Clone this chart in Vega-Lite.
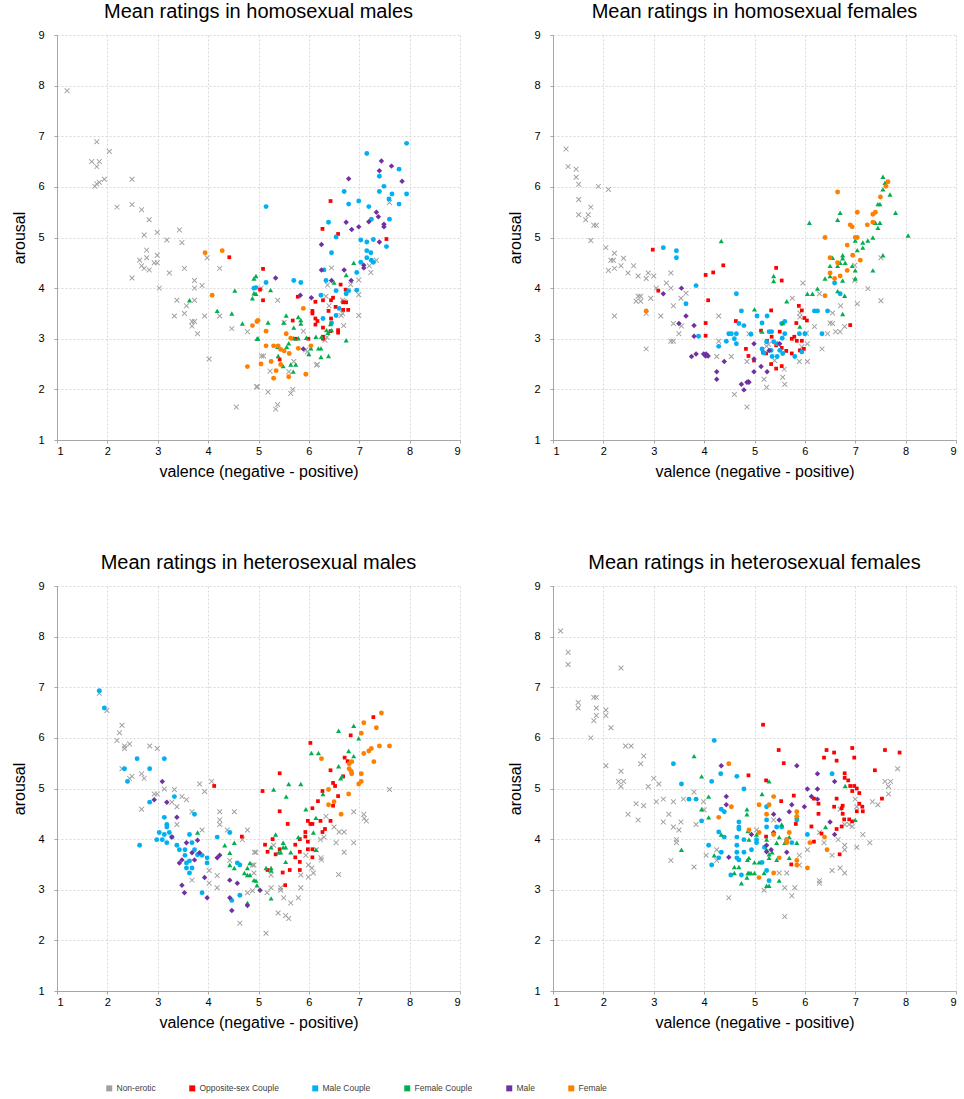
{
"$schema":"https://vega.github.io/schema/vega-lite/v6.json",
"padding":{"left":11,"top":2,"right":0,"bottom":0},
"autosize":{"type":"pad"},
"background":"white",
"config":{
"view":{"stroke":null},
"title":{"font":"Liberation Sans","fontSize":20,"fontWeight":"normal","color":"#000000","anchor":"middle","frame":"group","offset":7},
"axis":{"labelFont":"Liberation Sans","labelFontSize":11,"labelColor":"#000000","titleFont":"Liberation Sans","titleFontSize":16,"titleFontWeight":"normal","titleColor":"#000000","domainColor":"#a6a6a6","tickColor":"#a6a6a6","tickSize":3,"gridColor":"#d9d9d9","gridDash":[2,2],"gridWidth":1},
"axisX":{"labelPadding":2,"titlePadding":7},
"axisY":{"labelPadding":10,"titlePadding":10},
"legend":{"symbolType":"square","symbolSize":36,"symbolOpacity":1,"labelFont":"Liberation Sans","labelFontSize":8.5,"labelColor":"#404040","columnPadding":32,"labelOffset":3,"symbolStrokeWidth":0}
},
"datasets":{
"hm":[
{"c":"N","v":1.2,"a":7.9},{"c":"N","v":1.79,"a":6.89},{"c":"N","v":2.04,"a":6.7},{"c":"N","v":1.69,"a":6.5},{"c":"N","v":1.84,"a":6.5},{"c":"N","v":1.79,"a":6.4},{"c":"N","v":1.75,"a":6.01},{"c":"N","v":1.79,"a":6.06},{"c":"N","v":1.84,"a":6.09},{"c":"N","v":1.94,"a":6.15},{"c":"N","v":2.49,"a":6.15},{"c":"N","v":2.19,"a":5.6},{"c":"N","v":2.49,"a":5.65},{"c":"N","v":2.68,"a":5.55},{"c":"N","v":2.83,"a":5.35},{"c":"N","v":2.73,"a":5.05},{"c":"N","v":2.99,"a":5.1},{"c":"N","v":3.18,"a":4.95},{"c":"N","v":3.43,"a":5.15},{"c":"N","v":3.48,"a":4.9},{"c":"N","v":2.78,"a":4.75},{"c":"N","v":2.78,"a":4.6},{"c":"N","v":2.64,"a":4.55},{"c":"N","v":2.68,"a":4.44},{"c":"N","v":2.73,"a":4.39},{"c":"N","v":2.83,"a":4.36},{"c":"N","v":2.93,"a":4.5},{"c":"N","v":2.99,"a":4.5},{"c":"N","v":2.99,"a":4.65},{"c":"N","v":2.49,"a":4.2},{"c":"N","v":3.03,"a":4.0},{"c":"N","v":3.23,"a":4.3},{"c":"N","v":3.53,"a":4.39},{"c":"N","v":3.98,"a":4.6},{"c":"N","v":4.23,"a":4.39},{"c":"N","v":3.73,"a":4.15},{"c":"N","v":3.73,"a":4.0},{"c":"N","v":3.88,"a":4.05},{"c":"N","v":3.38,"a":3.76},{"c":"N","v":3.73,"a":3.76},{"c":"N","v":3.57,"a":3.65},{"c":"N","v":3.33,"a":3.45},{"c":"N","v":3.53,"a":3.5},{"c":"N","v":3.68,"a":3.34},{"c":"N","v":3.73,"a":3.34},{"c":"N","v":3.68,"a":3.25},{"c":"N","v":3.79,"a":3.1},{"c":"N","v":3.93,"a":3.45},{"c":"N","v":4.23,"a":3.45},{"c":"N","v":4.47,"a":3.2},{"c":"N","v":4.78,"a":3.14},{"c":"N","v":4.02,"a":2.6},{"c":"N","v":4.56,"a":1.65},{"c":"N","v":4.96,"a":2.05},
{"c":"N","v":7.6,"a":5.69},{"c":"N","v":7.34,"a":4.55},{"c":"N","v":7.2,"a":4.44},{"c":"N","v":7.23,"a":4.31},{"c":"N","v":6.99,"a":4.16},{"c":"N","v":6.99,"a":3.87},{"c":"N","v":6.99,"a":3.46},{"c":"N","v":6.45,"a":4.4},{"c":"N","v":6.37,"a":4.06},{"c":"N","v":6.34,"a":3.84},{"c":"N","v":6.67,"a":3.76},{"c":"N","v":6.7,"a":3.74},{"c":"N","v":6.4,"a":3.65},{"c":"N","v":6.64,"a":3.46},{"c":"N","v":6.67,"a":3.5},{"c":"N","v":6.69,"a":3.26},{"c":"N","v":6.83,"a":4.07},{"c":"N","v":5.05,"a":4.0},{"c":"N","v":5.38,"a":3.76},{"c":"N","v":5.51,"a":3.32},{"c":"N","v":5.89,"a":3.15},{"c":"N","v":5.94,"a":2.78},{"c":"N","v":5.97,"a":2.74},{"c":"N","v":5.06,"a":2.66},{"c":"N","v":5.1,"a":2.66},{"c":"N","v":5.7,"a":2.55},{"c":"N","v":6.15,"a":2.48},{"c":"N","v":6.17,"a":2.49},{"c":"N","v":5.23,"a":2.36},{"c":"N","v":5.6,"a":2.35},{"c":"N","v":4.98,"a":2.05},{"c":"N","v":5.19,"a":1.95},{"c":"N","v":5.64,"a":1.92},{"c":"N","v":5.68,"a":2.0},{"c":"N","v":5.38,"a":1.7},{"c":"N","v":5.34,"a":1.61},{"c":"N","v":6.32,"a":2.97},{"c":"N","v":6.36,"a":3.03},
{"c":"O","v":4.42,"a":4.61},{"c":"O","v":6.43,"a":5.72},{"c":"O","v":6.27,"a":5.17},{"c":"O","v":6.58,"a":5.07},{"c":"O","v":7.54,"a":4.97},{"c":"O","v":5.09,"a":4.38},{"c":"O","v":5.03,"a":3.97},{"c":"O","v":5.09,"a":3.76},{"c":"O","v":5.78,"a":3.83},{"c":"O","v":6.63,"a":4.07},{"c":"O","v":6.73,"a":3.97},{"c":"O","v":6.13,"a":3.73},{"c":"O","v":6.28,"a":3.76},{"c":"O","v":6.44,"a":3.76},{"c":"O","v":6.48,"a":3.81},{"c":"O","v":6.53,"a":3.63},{"c":"O","v":6.68,"a":3.72},{"c":"O","v":6.74,"a":3.72},{"c":"O","v":6.07,"a":3.55},{"c":"O","v":6.07,"a":3.5},{"c":"O","v":6.68,"a":3.57},{"c":"O","v":6.78,"a":3.57},{"c":"O","v":5.68,"a":3.36},{"c":"O","v":6.13,"a":3.4},{"c":"O","v":6.17,"a":3.35},{"c":"O","v":6.39,"a":3.55},{"c":"O","v":6.44,"a":3.4},{"c":"O","v":6.13,"a":3.28},{"c":"O","v":6.58,"a":3.17},{"c":"O","v":6.58,"a":3.12},{"c":"O","v":6.28,"a":3.22},{"c":"O","v":6.43,"a":3.15},{"c":"O","v":6.28,"a":3.04},{"c":"O","v":5.74,"a":3.0},{"c":"O","v":5.99,"a":3.0},{"c":"O","v":6.28,"a":3.0},{"c":"O","v":5.42,"a":2.59},
{"c":"MC","v":4.91,"a":4.0},{"c":"MC","v":7.94,"a":6.86},{"c":"MC","v":7.15,"a":6.66},{"c":"MC","v":7.79,"a":6.35},{"c":"MC","v":7.4,"a":6.21},{"c":"MC","v":7.49,"a":6.01},{"c":"MC","v":7.4,"a":5.91},{"c":"MC","v":6.7,"a":5.91},{"c":"MC","v":7.65,"a":5.86},{"c":"MC","v":7.59,"a":5.76},{"c":"MC","v":7.94,"a":5.86},{"c":"MC","v":7.79,"a":5.66},{"c":"MC","v":6.79,"a":5.66},{"c":"MC","v":6.99,"a":5.72},{"c":"MC","v":7.19,"a":5.61},{"c":"MC","v":5.15,"a":5.61},{"c":"MC","v":7.24,"a":5.36},{"c":"MC","v":7.6,"a":5.36},{"c":"MC","v":6.39,"a":5.3},{"c":"MC","v":6.54,"a":5.01},{"c":"MC","v":6.45,"a":4.7},{"c":"MC","v":7.03,"a":4.95},{"c":"MC","v":7.15,"a":4.91},{"c":"MC","v":7.28,"a":4.96},{"c":"MC","v":7.54,"a":4.82},{"c":"MC","v":7.15,"a":4.74},{"c":"MC","v":7.23,"a":4.7},{"c":"MC","v":7.15,"a":4.6},{"c":"MC","v":7.24,"a":4.55},{"c":"MC","v":7.28,"a":4.51},{"c":"MC","v":7.03,"a":4.51},{"c":"MC","v":6.95,"a":4.31},{"c":"MC","v":6.3,"a":4.36},{"c":"MC","v":6.34,"a":4.15},{"c":"MC","v":5.15,"a":4.11},{"c":"MC","v":5.7,"a":4.15},{"c":"MC","v":5.84,"a":4.11},{"c":"MC","v":4.95,"a":4.01},{"c":"MC","v":6.54,"a":3.95},{"c":"MC","v":6.79,"a":3.95},{"c":"MC","v":6.74,"a":3.89},{"c":"MC","v":6.95,"a":3.96},{"c":"MC","v":6.24,"a":3.86},{"c":"MC","v":6.6,"a":3.6},{"c":"MC","v":6.54,"a":3.46},{"c":"MC","v":6.28,"a":3.4},{"c":"MC","v":6.45,"a":3.31},
{"c":"FC","v":3.63,"a":3.76},{"c":"FC","v":4.18,"a":3.55},{"c":"FC","v":4.47,"a":3.5},{"c":"FC","v":4.53,"a":3.95},{"c":"FC","v":4.68,"a":3.3},{"c":"FC","v":4.91,"a":4.19},{"c":"FC","v":4.91,"a":3.9},{"c":"FC","v":4.88,"a":3.8},{"c":"FC","v":4.97,"a":3.0},{"c":"FC","v":6.89,"a":4.5},{"c":"FC","v":6.74,"a":4.26},{"c":"FC","v":6.5,"a":4.11},{"c":"FC","v":4.95,"a":4.24},{"c":"FC","v":4.95,"a":3.89},{"c":"FC","v":5.24,"a":3.96},{"c":"FC","v":5.55,"a":3.46},{"c":"FC","v":5.79,"a":3.43},{"c":"FC","v":5.84,"a":3.37},{"c":"FC","v":5.19,"a":3.32},{"c":"FC","v":4.99,"a":3.01},{"c":"FC","v":5.5,"a":3.32},{"c":"FC","v":5.7,"a":3.22},{"c":"FC","v":5.84,"a":3.3},{"c":"FC","v":5.6,"a":2.91},{"c":"FC","v":5.7,"a":3.01},{"c":"FC","v":5.79,"a":3.01},{"c":"FC","v":5.95,"a":3.02},{"c":"FC","v":6.14,"a":3.04},{"c":"FC","v":6.25,"a":3.04},{"c":"FC","v":6.35,"a":3.17},{"c":"FC","v":6.45,"a":3.17},{"c":"FC","v":6.43,"a":3.29},{"c":"FC","v":6.38,"a":3.12},{"c":"FC","v":6.74,"a":2.97},{"c":"FC","v":5.38,"a":2.84},{"c":"FC","v":5.56,"a":2.84},{"c":"FC","v":6.04,"a":2.81},{"c":"FC","v":6.19,"a":2.81},{"c":"FC","v":6.24,"a":2.81},{"c":"FC","v":5.39,"a":2.66},{"c":"FC","v":5.49,"a":2.46},{"c":"FC","v":5.64,"a":2.49},{"c":"FC","v":5.74,"a":2.49},{"c":"FC","v":5.69,"a":2.35},{"c":"FC","v":6.24,"a":2.64},{"c":"FC","v":6.39,"a":2.66},{"c":"FC","v":6.0,"a":2.7},
{"c":"M","v":7.44,"a":6.51},{"c":"M","v":7.64,"a":6.41},{"c":"M","v":7.4,"a":6.32},{"c":"M","v":7.85,"a":6.11},{"c":"M","v":6.79,"a":6.16},{"c":"M","v":7.34,"a":5.5},{"c":"M","v":7.38,"a":5.41},{"c":"M","v":6.74,"a":5.3},{"c":"M","v":6.85,"a":5.16},{"c":"M","v":6.99,"a":5.21},{"c":"M","v":7.19,"a":5.31},{"c":"M","v":7.49,"a":5.26},{"c":"M","v":7.49,"a":5.21},{"c":"M","v":7.4,"a":4.91},{"c":"M","v":6.25,"a":4.86},{"c":"M","v":7.09,"a":4.45},{"c":"M","v":7.09,"a":4.4},{"c":"M","v":6.25,"a":4.36},{"c":"M","v":6.7,"a":4.36},{"c":"M","v":6.45,"a":4.15},{"c":"M","v":6.84,"a":4.15},{"c":"M","v":5.34,"a":4.2},{"c":"M","v":5.83,"a":3.86},{"c":"M","v":6.05,"a":3.81},{"c":"M","v":5.89,"a":2.8},
{"c":"F","v":3.94,"a":4.7},{"c":"F","v":4.28,"a":4.74},{"c":"F","v":4.08,"a":3.86},{"c":"F","v":4.88,"a":3.26},{"c":"F","v":4.78,"a":2.45},{"c":"F","v":4.97,"a":3.34},{"c":"F","v":5.89,"a":3.6},{"c":"F","v":4.99,"a":3.36},{"c":"F","v":5.15,"a":3.15},{"c":"F","v":5.55,"a":3.1},{"c":"F","v":5.64,"a":3.01},{"c":"F","v":5.15,"a":2.86},{"c":"F","v":5.3,"a":2.86},{"c":"F","v":5.39,"a":2.86},{"c":"F","v":5.44,"a":2.79},{"c":"F","v":5.51,"a":2.76},{"c":"F","v":5.61,"a":2.71},{"c":"F","v":5.79,"a":2.81},{"c":"F","v":6.04,"a":2.86},{"c":"F","v":5.05,"a":2.5},{"c":"F","v":5.25,"a":2.55},{"c":"F","v":5.44,"a":2.49},{"c":"F","v":5.35,"a":2.37},{"c":"F","v":5.3,"a":2.22},{"c":"F","v":5.6,"a":2.25},{"c":"F","v":5.94,"a":2.3}
],
"hf":[
{"c":"N","v":1.26,"a":6.75},{"c":"N","v":1.3,"a":6.4},{"c":"N","v":1.46,"a":6.35},{"c":"N","v":1.46,"a":6.19},{"c":"N","v":1.51,"a":6.05},{"c":"N","v":1.9,"a":6.01},{"c":"N","v":2.1,"a":5.95},{"c":"N","v":1.51,"a":5.75},{"c":"N","v":1.75,"a":5.6},{"c":"N","v":1.51,"a":5.45},{"c":"N","v":1.7,"a":5.45},{"c":"N","v":1.65,"a":5.35},{"c":"N","v":1.81,"a":5.24},{"c":"N","v":1.86,"a":5.24},{"c":"N","v":1.75,"a":4.94},{"c":"N","v":2.05,"a":4.8},{"c":"N","v":2.22,"a":4.69},{"c":"N","v":2.15,"a":4.55},{"c":"N","v":2.2,"a":4.55},{"c":"N","v":2.4,"a":4.59},{"c":"N","v":2.35,"a":4.44},{"c":"N","v":2.1,"a":4.35},{"c":"N","v":2.22,"a":4.39},{"c":"N","v":2.49,"a":4.3},{"c":"N","v":2.6,"a":4.44},{"c":"N","v":2.69,"a":4.24},{"c":"N","v":2.85,"a":4.19},{"c":"N","v":2.89,"a":4.3},{"c":"N","v":3.0,"a":4.24},{"c":"N","v":3.34,"a":4.3},{"c":"N","v":3.25,"a":4.1},{"c":"N","v":3.05,"a":4.0},{"c":"N","v":3.34,"a":4.0},{"c":"N","v":2.69,"a":3.84},{"c":"N","v":2.74,"a":3.84},{"c":"N","v":2.65,"a":3.74},{"c":"N","v":2.74,"a":3.74},{"c":"N","v":2.94,"a":3.8},{"c":"N","v":2.22,"a":3.45},{"c":"N","v":2.85,"a":3.5},{"c":"N","v":3.14,"a":3.45},{"c":"N","v":3.39,"a":3.65},{"c":"N","v":3.54,"a":3.8},{"c":"N","v":3.64,"a":3.9},{"c":"N","v":3.55,"a":3.25},{"c":"N","v":3.39,"a":3.3},{"c":"N","v":3.5,"a":3.1},{"c":"N","v":3.34,"a":2.95},{"c":"N","v":3.39,"a":2.95},{"c":"N","v":2.85,"a":2.8},{"c":"N","v":4.29,"a":3.45},{"c":"N","v":4.29,"a":2.95},{"c":"N","v":4.25,"a":2.65},{"c":"N","v":4.54,"a":2.65},{"c":"N","v":4.85,"a":2.55},{"c":"N","v":4.6,"a":1.9},{"c":"N","v":4.85,"a":1.65},{"c":"N","v":4.89,"a":3.1},
{"c":"N","v":5.96,"a":4.1},{"c":"N","v":5.75,"a":3.8},{"c":"N","v":6.29,"a":3.89},{"c":"N","v":6.71,"a":3.65},{"c":"N","v":7.04,"a":3.69},{"c":"N","v":7.25,"a":3.99},{"c":"N","v":7.51,"a":3.75},{"c":"N","v":7.51,"a":4.6},{"c":"N","v":6.99,"a":4.45},{"c":"N","v":6.99,"a":4.15},{"c":"N","v":5.9,"a":3.51},{"c":"N","v":5.9,"a":3.43},{"c":"N","v":6.55,"a":3.51},{"c":"N","v":6.5,"a":3.31},{"c":"N","v":6.55,"a":3.3},{"c":"N","v":6.19,"a":3.24},{"c":"N","v":6.03,"a":3.11},{"c":"N","v":6.45,"a":3.1},{"c":"N","v":6.61,"a":3.14},{"c":"N","v":6.7,"a":3.14},{"c":"N","v":6.79,"a":3.24},{"c":"N","v":6.05,"a":2.9},{"c":"N","v":5.94,"a":2.84},{"c":"N","v":6.34,"a":2.8},{"c":"N","v":5.89,"a":2.55},{"c":"N","v":6.05,"a":2.55},{"c":"N","v":5.24,"a":2.85},{"c":"N","v":5.28,"a":2.89},{"c":"N","v":5.4,"a":2.57},{"c":"N","v":5.59,"a":2.4},{"c":"N","v":5.56,"a":2.24},{"c":"N","v":5.6,"a":2.1},{"c":"N","v":5.19,"a":2.2},{"c":"N","v":5.24,"a":2.04},
{"c":"O","v":2.98,"a":4.76},{"c":"O","v":3.09,"a":3.95},{"c":"O","v":4.03,"a":4.26},{"c":"O","v":4.18,"a":4.31},{"c":"O","v":4.38,"a":4.45},{"c":"O","v":4.08,"a":3.76},{"c":"O","v":4.03,"a":3.31},{"c":"O","v":4.03,"a":3.06},{"c":"O","v":4.63,"a":3.35},{"c":"O","v":4.83,"a":2.8},{"c":"O","v":4.88,"a":2.66},{"c":"O","v":5.43,"a":4.4},{"c":"O","v":5.54,"a":4.15},{"c":"O","v":5.33,"a":3.56},{"c":"O","v":5.88,"a":3.65},{"c":"O","v":5.94,"a":3.56},{"c":"O","v":5.83,"a":3.31},{"c":"O","v":5.99,"a":3.41},{"c":"O","v":6.04,"a":3.36},{"c":"O","v":6.9,"a":3.27},{"c":"O","v":5.13,"a":3.16},{"c":"O","v":5.5,"a":3.14},{"c":"O","v":5.34,"a":3.04},{"c":"O","v":5.25,"a":2.96},{"c":"O","v":5.79,"a":3.04},{"c":"O","v":5.84,"a":2.96},{"c":"O","v":5.74,"a":3.0},{"c":"O","v":5.94,"a":2.96},{"c":"O","v":5.43,"a":2.87},{"c":"O","v":5.54,"a":2.82},{"c":"O","v":5.98,"a":2.8},{"c":"O","v":5.9,"a":2.77},{"c":"O","v":5.74,"a":2.71},{"c":"O","v":5.17,"a":2.73},{"c":"O","v":5.23,"a":2.71},{"c":"O","v":5.63,"a":2.76},{"c":"O","v":5.54,"a":2.46},{"c":"O","v":5.43,"a":2.41},{"c":"O","v":5.33,"a":2.5},{"c":"O","v":4.99,"a":2.57},
{"c":"MC","v":3.19,"a":4.8},{"c":"MC","v":3.45,"a":4.74},{"c":"MC","v":3.45,"a":4.6},{"c":"MC","v":3.84,"a":4.05},{"c":"MC","v":3.64,"a":3.69},{"c":"MC","v":4.64,"a":3.89},{"c":"MC","v":4.74,"a":3.55},{"c":"MC","v":4.69,"a":3.3},{"c":"MC","v":4.79,"a":3.26},{"c":"MC","v":4.93,"a":3.09},{"c":"MC","v":4.49,"a":3.1},{"c":"MC","v":4.54,"a":3.1},{"c":"MC","v":4.64,"a":3.1},{"c":"MC","v":4.6,"a":3.0},{"c":"MC","v":4.44,"a":2.95},{"c":"MC","v":4.64,"a":2.9},{"c":"MC","v":4.29,"a":2.85},{"c":"MC","v":3.89,"a":3.05},{"c":"MC","v":5.05,"a":3.45},{"c":"MC","v":5.25,"a":3.45},{"c":"MC","v":5.15,"a":3.31},{"c":"MC","v":6.19,"a":3.55},{"c":"MC","v":6.25,"a":3.55},{"c":"MC","v":6.45,"a":3.55},{"c":"MC","v":6.59,"a":4.1},{"c":"MC","v":6.7,"a":3.89},{"c":"MC","v":5.6,"a":3.34},{"c":"MC","v":5.54,"a":3.3},{"c":"MC","v":5.29,"a":3.14},{"c":"MC","v":5.34,"a":3.14},{"c":"MC","v":5.6,"a":3.1},{"c":"MC","v":5.89,"a":3.1},{"c":"MC","v":6.0,"a":3.1},{"c":"MC","v":6.34,"a":3.1},{"c":"MC","v":5.55,"a":3.01},{"c":"MC","v":5.24,"a":2.94},{"c":"MC","v":5.38,"a":2.94},{"c":"MC","v":5.45,"a":2.9},{"c":"MC","v":5.15,"a":2.8},{"c":"MC","v":5.19,"a":2.72},{"c":"MC","v":5.33,"a":2.77},{"c":"MC","v":5.5,"a":2.77},{"c":"MC","v":5.56,"a":2.71},{"c":"MC","v":5.45,"a":2.65},{"c":"MC","v":5.35,"a":2.65},{"c":"MC","v":5.8,"a":2.65},{"c":"MC","v":5.94,"a":2.74},
{"c":"FC","v":4.34,"a":4.93},{"c":"FC","v":7.55,"a":6.2},{"c":"FC","v":7.59,"a":6.08},{"c":"FC","v":7.55,"a":5.95},{"c":"FC","v":7.69,"a":5.85},{"c":"FC","v":7.45,"a":5.66},{"c":"FC","v":7.49,"a":5.66},{"c":"FC","v":7.8,"a":5.49},{"c":"FC","v":6.7,"a":5.49},{"c":"FC","v":6.65,"a":5.35},{"c":"FC","v":6.09,"a":5.29},{"c":"FC","v":7.4,"a":5.29},{"c":"FC","v":7.49,"a":5.29},{"c":"FC","v":7.45,"a":5.19},{"c":"FC","v":8.05,"a":5.04},{"c":"FC","v":7.35,"a":5.0},{"c":"FC","v":7.25,"a":4.94},{"c":"FC","v":7.15,"a":4.9},{"c":"FC","v":7.15,"a":4.8},{"c":"FC","v":7.0,"a":4.94},{"c":"FC","v":7.04,"a":4.75},{"c":"FC","v":7.55,"a":4.65},{"c":"FC","v":6.75,"a":4.65},{"c":"FC","v":6.75,"a":4.59},{"c":"FC","v":6.55,"a":4.6},{"c":"FC","v":6.65,"a":4.44},{"c":"FC","v":6.7,"a":4.5},{"c":"FC","v":6.8,"a":4.5},{"c":"FC","v":6.5,"a":4.44},{"c":"FC","v":6.5,"a":4.24},{"c":"FC","v":6.94,"a":4.44},{"c":"FC","v":7.0,"a":4.35},{"c":"FC","v":7.0,"a":4.19},{"c":"FC","v":7.35,"a":4.35},{"c":"FC","v":6.4,"a":4.19},{"c":"FC","v":6.75,"a":4.15},{"c":"FC","v":5.38,"a":4.24},{"c":"FC","v":5.38,"a":4.14},{"c":"FC","v":6.25,"a":3.99},{"c":"FC","v":6.05,"a":3.89},{"c":"FC","v":6.15,"a":3.89},{"c":"FC","v":6.65,"a":3.94},{"c":"FC","v":6.79,"a":3.85},{"c":"FC","v":5.64,"a":3.74},{"c":"FC","v":6.75,"a":3.49},{"c":"FC","v":5.0,"a":3.58},{"c":"FC","v":5.56,"a":3.31},{"c":"FC","v":5.15,"a":3.14},{"c":"FC","v":5.9,"a":3.24},
{"c":"M","v":3.55,"a":4.0},{"c":"M","v":3.19,"a":3.89},{"c":"M","v":3.64,"a":3.45},{"c":"M","v":3.5,"a":3.3},{"c":"M","v":3.8,"a":3.26},{"c":"M","v":3.8,"a":3.05},{"c":"M","v":3.75,"a":2.65},{"c":"M","v":3.84,"a":2.7},{"c":"M","v":3.99,"a":2.7},{"c":"M","v":4.03,"a":2.66},{"c":"M","v":4.08,"a":2.66},{"c":"M","v":4.04,"a":2.7},{"c":"M","v":4.4,"a":2.55},{"c":"M","v":4.25,"a":2.35},{"c":"M","v":4.25,"a":2.2},{"c":"M","v":4.74,"a":2.1},{"c":"M","v":4.85,"a":2.14},{"c":"M","v":4.89,"a":2.14},{"c":"M","v":4.79,"a":1.99},{"c":"M","v":4.99,"a":2.9},{"c":"M","v":4.99,"a":2.6},{"c":"M","v":5.13,"a":2.45},{"c":"M","v":5.25,"a":2.35},{"c":"M","v":4.99,"a":2.35},{"c":"M","v":4.88,"a":2.15},{"c":"M","v":5.29,"a":2.77},{"c":"M","v":5.5,"a":2.9},
{"c":"F","v":2.85,"a":3.55},{"c":"F","v":7.65,"a":6.1},{"c":"F","v":7.61,"a":6.01},{"c":"F","v":6.65,"a":5.9},{"c":"F","v":7.5,"a":5.8},{"c":"F","v":7.04,"a":5.5},{"c":"F","v":7.35,"a":5.46},{"c":"F","v":7.4,"a":5.5},{"c":"F","v":7.35,"a":5.3},{"c":"F","v":6.9,"a":5.25},{"c":"F","v":6.94,"a":5.21},{"c":"F","v":7.24,"a":5.25},{"c":"F","v":6.4,"a":5.0},{"c":"F","v":7.0,"a":5.0},{"c":"F","v":7.04,"a":5.0},{"c":"F","v":6.84,"a":4.85},{"c":"F","v":6.5,"a":4.6},{"c":"F","v":6.95,"a":4.65},{"c":"F","v":7.1,"a":4.55},{"c":"F","v":6.65,"a":4.5},{"c":"F","v":6.84,"a":4.35},{"c":"F","v":6.5,"a":4.3},{"c":"F","v":6.7,"a":4.24},{"c":"F","v":6.59,"a":4.19},{"c":"F","v":6.4,"a":3.85}
],
"htm":[
{"c":"N","v":1.84,"a":6.88},{"c":"N","v":1.99,"a":6.54},{"c":"N","v":2.29,"a":6.25},{"c":"N","v":2.24,"a":6.1},{"c":"N","v":2.19,"a":5.95},{"c":"N","v":2.34,"a":5.84},{"c":"N","v":2.34,"a":5.79},{"c":"N","v":2.44,"a":5.88},{"c":"N","v":2.84,"a":5.84},{"c":"N","v":2.99,"a":5.79},{"c":"N","v":2.29,"a":5.39},{"c":"N","v":2.44,"a":5.2},{"c":"N","v":2.49,"a":5.24},{"c":"N","v":2.68,"a":5.29},{"c":"N","v":2.73,"a":5.2},{"c":"N","v":2.93,"a":4.89},{"c":"N","v":2.99,"a":4.89},{"c":"N","v":3.13,"a":4.99},{"c":"N","v":3.33,"a":4.98},{"c":"N","v":3.28,"a":4.73},{"c":"N","v":3.38,"a":4.64},{"c":"N","v":3.48,"a":4.84},{"c":"N","v":3.57,"a":4.78},{"c":"N","v":2.68,"a":4.59},{"c":"N","v":3.38,"a":4.29},{"c":"N","v":3.68,"a":4.54},{"c":"N","v":3.83,"a":5.09},{"c":"N","v":3.93,"a":4.94},{"c":"N","v":4.07,"a":5.14},{"c":"N","v":3.88,"a":4.18},{"c":"N","v":4.23,"a":4.54},{"c":"N","v":4.23,"a":4.38},{"c":"N","v":4.23,"a":4.29},{"c":"N","v":4.52,"a":4.54},{"c":"N","v":4.38,"a":4.18},{"c":"N","v":4.78,"a":4.18},{"c":"N","v":4.68,"a":3.99},{"c":"N","v":3.68,"a":3.19},{"c":"N","v":4.02,"a":3.38},{"c":"N","v":4.02,"a":3.13},{"c":"N","v":4.18,"a":3.28},{"c":"N","v":4.18,"a":3.04},{"c":"N","v":4.43,"a":3.58},{"c":"N","v":4.92,"a":3.74},{"c":"N","v":4.88,"a":3.49},{"c":"N","v":4.78,"a":2.94},{"c":"N","v":4.88,"a":2.98},{"c":"N","v":4.63,"a":2.34},
{"c":"N","v":7.6,"a":4.98},{"c":"N","v":6.89,"a":4.54},{"c":"N","v":7.09,"a":4.49},{"c":"N","v":7.14,"a":4.36},{"c":"N","v":7.1,"a":4.41},{"c":"N","v":6.34,"a":4.45},{"c":"N","v":6.5,"a":4.24},{"c":"N","v":6.6,"a":4.14},{"c":"N","v":6.7,"a":4.14},{"c":"N","v":6.54,"a":3.93},{"c":"N","v":6.89,"a":3.93},{"c":"N","v":6.7,"a":3.74},{"c":"N","v":6.3,"a":4.04},{"c":"N","v":6.23,"a":3.99},{"c":"N","v":6.15,"a":3.79},{"c":"N","v":6.24,"a":3.63},{"c":"N","v":6.25,"a":3.59},{"c":"N","v":5.94,"a":3.68},{"c":"N","v":5.99,"a":3.49},{"c":"N","v":6.06,"a":3.43},{"c":"N","v":6.09,"a":3.33},{"c":"N","v":5.99,"a":3.25},{"c":"N","v":6.59,"a":3.3},{"c":"N","v":5.84,"a":3.29},{"c":"N","v":5.84,"a":3.04},{"c":"N","v":5.79,"a":2.84},{"c":"N","v":5.25,"a":3.29},{"c":"N","v":5.25,"a":3.04},{"c":"N","v":5.44,"a":3.04},{"c":"N","v":5.44,"a":2.99},{"c":"N","v":5.17,"a":2.94},{"c":"N","v":5.5,"a":2.84},{"c":"N","v":5.64,"a":2.74},{"c":"N","v":5.39,"a":2.54},{"c":"N","v":5.54,"a":2.49},{"c":"N","v":5.6,"a":2.43},{"c":"N","v":5.15,"a":2.14},{"c":"N","v":4.95,"a":3.74},{"c":"N","v":4.91,"a":3.49},{"c":"N","v":4.91,"a":3.33},{"c":"N","v":5.3,"a":3.88},
{"c":"O","v":4.12,"a":5.05},{"c":"O","v":4.67,"a":4.05},{"c":"O","v":7.28,"a":6.41},{"c":"O","v":6.83,"a":6.05},{"c":"O","v":6.03,"a":5.9},{"c":"O","v":6.71,"a":5.61},{"c":"O","v":6.77,"a":5.54},{"c":"O","v":6.43,"a":5.36},{"c":"O","v":6.68,"a":5.24},{"c":"O","v":6.48,"a":5.11},{"c":"O","v":6.52,"a":5.05},{"c":"O","v":6.27,"a":4.95},{"c":"O","v":5.42,"a":5.3},{"c":"O","v":5.08,"a":4.95},{"c":"O","v":5.42,"a":4.55},{"c":"O","v":6.18,"a":4.75},{"c":"O","v":6.58,"a":4.85},{"c":"O","v":6.48,"a":4.66},{"c":"O","v":6.07,"a":4.61},{"c":"O","v":5.98,"a":4.36},{"c":"O","v":6.03,"a":4.3},{"c":"O","v":6.07,"a":4.3},{"c":"O","v":6.43,"a":4.36},{"c":"O","v":6.23,"a":4.36},{"c":"O","v":6.32,"a":4.2},{"c":"O","v":6.27,"a":4.14},{"c":"O","v":5.58,"a":4.3},{"c":"O","v":5.93,"a":4.14},{"c":"O","v":5.93,"a":4.05},{"c":"O","v":5.82,"a":4.0},{"c":"O","v":5.98,"a":3.95},{"c":"O","v":5.13,"a":3.89},{"c":"O","v":5.28,"a":4.0},{"c":"O","v":5.42,"a":3.8},{"c":"O","v":5.18,"a":3.75},{"c":"O","v":5.34,"a":3.7},{"c":"O","v":5.73,"a":3.89},{"c":"O","v":5.82,"a":3.75},{"c":"O","v":5.98,"a":3.8},{"c":"O","v":6.07,"a":3.8},{"c":"O","v":5.73,"a":3.64},{"c":"O","v":6.07,"a":3.64},{"c":"O","v":5.82,"a":3.55},{"c":"O","v":5.62,"a":3.39},{"c":"O","v":5.82,"a":3.39},{"c":"O","v":5.48,"a":3.34},{"c":"O","v":5.18,"a":3.39},{"c":"O","v":5.53,"a":3.09},
{"c":"MC","v":1.84,"a":6.93},{"c":"MC","v":1.94,"a":6.59},{"c":"MC","v":2.34,"a":5.39},{"c":"MC","v":2.4,"a":5.14},{"c":"MC","v":2.59,"a":5.59},{"c":"MC","v":2.84,"a":5.39},{"c":"MC","v":3.13,"a":5.59},{"c":"MC","v":3.33,"a":4.84},{"c":"MC","v":2.84,"a":4.73},{"c":"MC","v":2.64,"a":3.88},{"c":"MC","v":3.13,"a":4.43},{"c":"MC","v":3.18,"a":4.29},{"c":"MC","v":3.18,"a":4.24},{"c":"MC","v":3.03,"a":4.13},{"c":"MC","v":3.13,"a":4.09},{"c":"MC","v":3.23,"a":4.13},{"c":"MC","v":2.98,"a":3.99},{"c":"MC","v":3.09,"a":3.99},{"c":"MC","v":3.18,"a":3.93},{"c":"MC","v":3.28,"a":4.04},{"c":"MC","v":3.38,"a":3.88},{"c":"MC","v":3.43,"a":3.79},{"c":"MC","v":3.54,"a":3.79},{"c":"MC","v":3.63,"a":4.09},{"c":"MC","v":3.73,"a":4.49},{"c":"MC","v":3.54,"a":3.68},{"c":"MC","v":3.63,"a":3.57},{"c":"MC","v":3.68,"a":3.93},{"c":"MC","v":3.57,"a":3.53},{"c":"MC","v":3.57,"a":3.43},{"c":"MC","v":3.68,"a":3.43},{"c":"MC","v":3.63,"a":3.33},{"c":"MC","v":3.73,"a":3.79},{"c":"MC","v":3.79,"a":3.69},{"c":"MC","v":3.88,"a":3.68},{"c":"MC","v":3.98,"a":3.63},{"c":"MC","v":3.98,"a":3.53},{"c":"MC","v":3.88,"a":2.94},{"c":"MC","v":4.18,"a":4.04},{"c":"MC","v":4.43,"a":4.13},{"c":"MC","v":4.58,"a":3.53},{"c":"MC","v":4.63,"a":3.49},{"c":"MC","v":4.63,"a":2.89},{"c":"MC","v":4.47,"a":2.79},
{"c":"FC","v":3.79,"a":4.13},{"c":"FC","v":4.33,"a":3.88},{"c":"FC","v":4.52,"a":3.93},{"c":"FC","v":4.43,"a":3.73},{"c":"FC","v":4.43,"a":3.49},{"c":"FC","v":4.52,"a":3.43},{"c":"FC","v":4.78,"a":3.43},{"c":"FC","v":4.83,"a":3.53},{"c":"FC","v":4.72,"a":3.33},{"c":"FC","v":4.78,"a":3.29},{"c":"FC","v":4.83,"a":3.29},{"c":"FC","v":4.91,"a":3.19},{"c":"FC","v":4.97,"a":3.09},{"c":"FC","v":4.78,"a":2.74},{"c":"FC","v":6.59,"a":6.14},{"c":"FC","v":6.89,"a":6.24},{"c":"FC","v":6.99,"a":5.99},{"c":"FC","v":6.05,"a":5.7},{"c":"FC","v":6.19,"a":5.7},{"c":"FC","v":6.79,"a":5.74},{"c":"FC","v":6.89,"a":5.64},{"c":"FC","v":6.59,"a":5.44},{"c":"FC","v":6.63,"a":5.2},{"c":"FC","v":6.66,"a":5.24},{"c":"FC","v":5.3,"a":4.98},{"c":"FC","v":5.6,"a":5.09},{"c":"FC","v":5.84,"a":5.09},{"c":"FC","v":5.55,"a":4.84},{"c":"FC","v":6.28,"a":4.89},{"c":"FC","v":5.94,"a":4.59},{"c":"FC","v":6.14,"a":4.42},{"c":"FC","v":6.09,"a":4.13},{"c":"FC","v":5.79,"a":4.04},{"c":"FC","v":5.34,"a":4.09},{"c":"FC","v":5.49,"a":3.93},{"c":"FC","v":5.49,"a":3.84},{"c":"FC","v":5.54,"a":3.84},{"c":"FC","v":5.25,"a":3.84},{"c":"FC","v":5.4,"a":3.74},{"c":"FC","v":5.44,"a":3.74},{"c":"FC","v":5.64,"a":3.74},{"c":"FC","v":6.14,"a":3.79},{"c":"FC","v":5.54,"a":3.55},{"c":"FC","v":5.15,"a":3.43},{"c":"FC","v":5.25,"a":3.43},{"c":"FC","v":5.25,"a":3.38},{"c":"FC","v":4.95,"a":3.18},{"c":"FC","v":5.25,"a":2.83},
{"c":"M","v":3.09,"a":5.14},{"c":"M","v":2.93,"a":4.78},{"c":"M","v":3.18,"a":4.73},{"c":"M","v":3.38,"a":4.43},{"c":"M","v":3.28,"a":4.04},{"c":"M","v":3.57,"a":3.93},{"c":"M","v":3.79,"a":3.98},{"c":"M","v":3.68,"a":3.73},{"c":"M","v":3.83,"a":3.73},{"c":"M","v":3.73,"a":3.59},{"c":"M","v":3.43,"a":3.53},{"c":"M","v":3.48,"a":3.59},{"c":"M","v":4.18,"a":3.63},{"c":"M","v":4.23,"a":3.68},{"c":"M","v":3.93,"a":3.24},{"c":"M","v":3.48,"a":3.09},{"c":"M","v":3.53,"a":2.94},{"c":"M","v":3.98,"a":2.84},{"c":"M","v":4.43,"a":3.19},{"c":"M","v":4.58,"a":3.13},{"c":"M","v":4.43,"a":2.84},{"c":"M","v":4.47,"a":2.59},{"c":"M","v":4.78,"a":2.69},{"c":"M","v":5.03,"a":2.99},
{"c":"F","v":7.44,"a":6.49},{"c":"F","v":7.09,"a":6.3},{"c":"F","v":7.34,"a":6.2},{"c":"F","v":7.04,"a":6.09},{"c":"F","v":7.4,"a":5.84},{"c":"F","v":7.6,"a":5.84},{"c":"F","v":7.24,"a":5.79},{"c":"F","v":7.19,"a":5.74},{"c":"F","v":7.09,"a":5.69},{"c":"F","v":7.29,"a":5.53},{"c":"F","v":6.85,"a":5.53},{"c":"F","v":6.8,"a":5.49},{"c":"F","v":6.8,"a":5.39},{"c":"F","v":6.84,"a":5.34},{"c":"F","v":6.85,"a":5.29},{"c":"F","v":7.04,"a":5.29},{"c":"F","v":6.99,"a":5.09},{"c":"F","v":7.04,"a":5.14},{"c":"F","v":6.25,"a":5.59},{"c":"F","v":6.39,"a":4.98},{"c":"F","v":6.79,"a":4.89},{"c":"F","v":6.5,"a":4.74},{"c":"F","v":6.39,"a":4.68},{"c":"F","v":6.64,"a":4.49}
],
"htf":[
{"c":"N","v":1.15,"a":8.11},{"c":"N","v":1.3,"a":7.69},{"c":"N","v":1.3,"a":7.45},{"c":"N","v":2.35,"a":7.38},{"c":"N","v":1.5,"a":6.7},{"c":"N","v":1.5,"a":6.59},{"c":"N","v":1.81,"a":6.8},{"c":"N","v":1.86,"a":6.8},{"c":"N","v":1.86,"a":6.59},{"c":"N","v":1.86,"a":6.44},{"c":"N","v":1.81,"a":6.34},{"c":"N","v":1.75,"a":6.0},{"c":"N","v":2.05,"a":6.55},{"c":"N","v":2.05,"a":6.44},{"c":"N","v":2.15,"a":6.2},{"c":"N","v":2.44,"a":5.84},{"c":"N","v":2.55,"a":5.84},{"c":"N","v":2.8,"a":5.64},{"c":"N","v":2.74,"a":5.49},{"c":"N","v":2.05,"a":5.45},{"c":"N","v":2.35,"a":5.34},{"c":"N","v":2.3,"a":5.14},{"c":"N","v":2.4,"a":5.14},{"c":"N","v":2.35,"a":5.04},{"c":"N","v":3.0,"a":5.2},{"c":"N","v":3.1,"a":5.09},{"c":"N","v":2.89,"a":5.04},{"c":"N","v":3.05,"a":4.74},{"c":"N","v":3.19,"a":4.79},{"c":"N","v":3.39,"a":4.74},{"c":"N","v":3.59,"a":4.79},{"c":"N","v":3.8,"a":4.93},{"c":"N","v":3.99,"a":4.74},{"c":"N","v":4.0,"a":4.58},{"c":"N","v":2.65,"a":4.7},{"c":"N","v":2.8,"a":4.66},{"c":"N","v":2.49,"a":4.49},{"c":"N","v":2.69,"a":4.38},{"c":"N","v":3.3,"a":4.49},{"c":"N","v":3.19,"a":4.34},{"c":"N","v":3.54,"a":4.34},{"c":"N","v":3.5,"a":4.18},{"c":"N","v":3.39,"a":4.24},{"c":"N","v":3.84,"a":4.29},{"c":"N","v":3.45,"a":3.99},{"c":"N","v":3.45,"a":3.93},{"c":"N","v":3.34,"a":3.58},{"c":"N","v":3.8,"a":3.45},{"c":"N","v":4.04,"a":3.68},{"c":"N","v":4.25,"a":3.79},{"c":"N","v":4.25,"a":3.58},{"c":"N","v":4.49,"a":2.84},
{"c":"N","v":7.84,"a":5.39},{"c":"N","v":7.59,"a":5.14},{"c":"N","v":7.7,"a":5.14},{"c":"N","v":7.66,"a":5.04},{"c":"N","v":7.66,"a":4.89},{"c":"N","v":7.34,"a":4.74},{"c":"N","v":7.45,"a":4.68},{"c":"N","v":7.0,"a":4.79},{"c":"N","v":7.03,"a":4.64},{"c":"N","v":6.7,"a":4.59},{"c":"N","v":6.88,"a":4.29},{"c":"N","v":6.94,"a":4.25},{"c":"N","v":6.79,"a":4.29},{"c":"N","v":7.15,"a":4.09},{"c":"N","v":7.29,"a":3.93},{"c":"N","v":7.03,"a":3.84},{"c":"N","v":6.79,"a":3.88},{"c":"N","v":6.79,"a":3.79},{"c":"N","v":6.66,"a":3.99},{"c":"N","v":6.38,"a":3.93},{"c":"N","v":6.29,"a":4.13},{"c":"N","v":5.89,"a":3.68},{"c":"N","v":5.89,"a":3.49},{"c":"N","v":6.05,"a":3.79},{"c":"N","v":6.54,"a":3.68},{"c":"N","v":6.54,"a":3.38},{"c":"N","v":6.7,"a":3.43},{"c":"N","v":6.79,"a":3.33},{"c":"N","v":6.29,"a":3.18},{"c":"N","v":6.29,"a":3.13},{"c":"N","v":5.49,"a":3.33},{"c":"N","v":5.64,"a":3.33},{"c":"N","v":5.6,"a":3.04},{"c":"N","v":5.8,"a":3.04},{"c":"N","v":5.74,"a":2.88},{"c":"N","v":5.19,"a":2.99},{"c":"N","v":5.6,"a":2.47},{"c":"N","v":5.38,"a":4.38},{"c":"N","v":5.04,"a":4.18},
{"c":"O","v":4.88,"a":5.26},{"c":"O","v":5.17,"a":6.26},{"c":"O","v":5.48,"a":5.76},{"c":"O","v":5.58,"a":5.5},{"c":"O","v":6.43,"a":5.76},{"c":"O","v":6.58,"a":5.71},{"c":"O","v":6.38,"a":5.61},{"c":"O","v":6.63,"a":5.55},{"c":"O","v":6.94,"a":5.8},{"c":"O","v":6.98,"a":5.61},{"c":"O","v":7.59,"a":5.76},{"c":"O","v":7.88,"a":5.71},{"c":"O","v":7.39,"a":5.36},{"c":"O","v":6.79,"a":5.3},{"c":"O","v":6.79,"a":5.21},{"c":"O","v":6.86,"a":5.16},{"c":"O","v":6.9,"a":5.05},{"c":"O","v":6.98,"a":5.05},{"c":"O","v":7.03,"a":5.0},{"c":"O","v":6.94,"a":4.95},{"c":"O","v":7.08,"a":4.91},{"c":"O","v":5.23,"a":5.16},{"c":"O","v":5.78,"a":4.86},{"c":"O","v":5.53,"a":4.75},{"c":"O","v":6.18,"a":4.8},{"c":"O","v":6.27,"a":4.7},{"c":"O","v":6.63,"a":4.8},{"c":"O","v":6.58,"a":4.64},{"c":"O","v":6.73,"a":4.61},{"c":"O","v":6.75,"a":4.66},{"c":"O","v":7.08,"a":4.7},{"c":"O","v":7.14,"a":4.64},{"c":"O","v":7.03,"a":4.55},{"c":"O","v":7.15,"a":4.55},{"c":"O","v":6.27,"a":4.5},{"c":"O","v":6.75,"a":4.5},{"c":"O","v":6.78,"a":4.39},{"c":"O","v":6.88,"a":4.39},{"c":"O","v":6.94,"a":4.35},{"c":"O","v":5.82,"a":4.3},{"c":"O","v":6.13,"a":4.25},{"c":"O","v":6.63,"a":4.2},{"c":"O","v":6.73,"a":4.25},{"c":"O","v":7.53,"a":4.8},{"c":"O","v":6.33,"a":4.11},{"c":"O","v":6.18,"a":3.95},{"c":"O","v":5.73,"a":3.5},{"c":"O","v":5.23,"a":4.05},{"c":"O","v":6.69,"a":3.7},
{"c":"MC","v":4.2,"a":5.95},{"c":"MC","v":3.39,"a":5.49},{"c":"MC","v":3.55,"a":5.09},{"c":"MC","v":4.33,"a":5.29},{"c":"MC","v":4.65,"a":5.24},{"c":"MC","v":4.15,"a":5.14},{"c":"MC","v":4.79,"a":4.99},{"c":"MC","v":3.7,"a":4.79},{"c":"MC","v":3.84,"a":4.79},{"c":"MC","v":3.95,"a":4.36},{"c":"MC","v":4.34,"a":4.59},{"c":"MC","v":4.4,"a":4.54},{"c":"MC","v":4.29,"a":4.14},{"c":"MC","v":4.4,"a":4.04},{"c":"MC","v":4.69,"a":4.34},{"c":"MC","v":4.69,"a":4.24},{"c":"MC","v":4.69,"a":4.2},{"c":"MC","v":4.65,"a":4.04},{"c":"MC","v":4.79,"a":3.99},{"c":"MC","v":4.94,"a":3.79},{"c":"MC","v":4.09,"a":3.88},{"c":"MC","v":4.34,"a":3.74},{"c":"MC","v":4.29,"a":3.63},{"c":"MC","v":4.65,"a":3.88},{"c":"MC","v":4.65,"a":3.74},{"c":"MC","v":4.79,"a":3.74},{"c":"MC","v":4.65,"a":3.63},{"c":"MC","v":4.69,"a":3.59},{"c":"MC","v":4.15,"a":3.49},{"c":"MC","v":4.53,"a":3.29},{"c":"MC","v":4.74,"a":3.29},{"c":"MC","v":6.54,"a":5.29},{"c":"MC","v":5.24,"a":4.64},{"c":"MC","v":5.24,"a":4.38},{"c":"MC","v":5.24,"a":4.24},{"c":"MC","v":5.44,"a":4.24},{"c":"MC","v":5.84,"a":4.38},{"c":"MC","v":6.05,"a":4.09},{"c":"MC","v":5.04,"a":3.99},{"c":"MC","v":5.04,"a":3.93},{"c":"MC","v":5.54,"a":4.24},{"c":"MC","v":5.64,"a":3.99},{"c":"MC","v":5.74,"a":3.93},{"c":"MC","v":5.2,"a":3.84},{"c":"MC","v":5.15,"a":3.54},{"c":"MC","v":5.24,"a":3.38},{"c":"MC","v":5.29,"a":3.18},
{"c":"FC","v":3.8,"a":5.64},{"c":"FC","v":3.95,"a":5.24},{"c":"FC","v":4.09,"a":4.84},{"c":"FC","v":3.95,"a":4.59},{"c":"FC","v":4.09,"a":4.43},{"c":"FC","v":3.55,"a":3.79},{"c":"FC","v":4.34,"a":4.09},{"c":"FC","v":4.2,"a":3.68},{"c":"FC","v":4.85,"a":4.59},{"c":"FC","v":4.85,"a":4.49},{"c":"FC","v":4.89,"a":3.99},{"c":"FC","v":4.6,"a":3.45},{"c":"FC","v":4.69,"a":3.45},{"c":"FC","v":4.6,"a":3.33},{"c":"FC","v":4.74,"a":3.13},{"c":"FC","v":4.85,"a":3.24},{"c":"FC","v":4.89,"a":3.33},{"c":"FC","v":4.86,"a":3.59},{"c":"FC","v":4.89,"a":3.63},{"c":"FC","v":5.29,"a":5.14},{"c":"FC","v":5.15,"a":4.89},{"c":"FC","v":6.8,"a":5.05},{"c":"FC","v":5.84,"a":4.45},{"c":"FC","v":5.54,"a":4.29},{"c":"FC","v":6.41,"a":4.24},{"c":"FC","v":7.0,"a":4.38},{"c":"FC","v":4.87,"a":4.16},{"c":"FC","v":5.04,"a":4.09},{"c":"FC","v":5.24,"a":3.99},{"c":"FC","v":5.44,"a":3.93},{"c":"FC","v":5.49,"a":4.04},{"c":"FC","v":5.6,"a":3.93},{"c":"FC","v":5.69,"a":4.04},{"c":"FC","v":5.84,"a":3.93},{"c":"FC","v":5.24,"a":3.79},{"c":"FC","v":5.35,"a":3.74},{"c":"FC","v":5.29,"a":3.63},{"c":"FC","v":5.29,"a":3.7},{"c":"FC","v":5.44,"a":3.59},{"c":"FC","v":5.69,"a":3.63},{"c":"FC","v":5.0,"a":3.54},{"c":"FC","v":5.09,"a":3.54},{"c":"FC","v":4.87,"a":3.33},{"c":"FC","v":4.93,"a":3.33},{"c":"FC","v":5.0,"a":3.33},{"c":"FC","v":5.19,"a":3.33},{"c":"FC","v":5.24,"a":3.08},{"c":"FC","v":5.29,"a":3.08},{"c":"FC","v":5.49,"a":3.18},
{"c":"M","v":4.34,"a":5.45},{"c":"M","v":4.44,"a":4.84},{"c":"M","v":4.44,"a":4.68},{"c":"M","v":4.49,"a":3.64},{"c":"M","v":4.94,"a":4.09},{"c":"M","v":5.84,"a":5.45},{"c":"M","v":6.25,"a":5.29},{"c":"M","v":6.59,"a":5.14},{"c":"M","v":6.05,"a":4.99},{"c":"M","v":6.25,"a":4.99},{"c":"M","v":6.13,"a":4.84},{"c":"M","v":6.25,"a":4.79},{"c":"M","v":5.74,"a":4.68},{"c":"M","v":5.99,"a":4.64},{"c":"M","v":5.69,"a":4.54},{"c":"M","v":5.38,"a":4.49},{"c":"M","v":5.49,"a":4.38},{"c":"M","v":6.5,"a":4.34},{"c":"M","v":6.59,"a":4.09},{"c":"M","v":5.38,"a":4.13},{"c":"M","v":5.24,"a":3.88},{"c":"M","v":5.24,"a":3.75},{"c":"M","v":5.33,"a":3.79},{"c":"M","v":5.64,"a":3.74},
{"c":"F","v":4.49,"a":5.49},{"c":"F","v":4.54,"a":4.64},{"c":"F","v":4.29,"a":4.43},{"c":"F","v":4.89,"a":4.18},{"c":"F","v":5.38,"a":4.84},{"c":"F","v":5.29,"a":4.68},{"c":"F","v":5.09,"a":4.68},{"c":"F","v":5.24,"a":4.49},{"c":"F","v":5.84,"a":4.54},{"c":"F","v":5.84,"a":4.45},{"c":"F","v":5.09,"a":4.13},{"c":"F","v":5.38,"a":4.09},{"c":"F","v":5.69,"a":4.13},{"c":"F","v":5.64,"a":3.99},{"c":"F","v":5.64,"a":3.93},{"c":"F","v":6.1,"a":3.93},{"c":"F","v":6.39,"a":4.04},{"c":"F","v":6.44,"a":3.79},{"c":"F","v":5.49,"a":3.63},{"c":"F","v":5.84,"a":3.58},{"c":"F","v":5.84,"a":3.49},{"c":"F","v":6.05,"a":3.43},{"c":"F","v":5.38,"a":3.33},{"c":"F","v":5.09,"a":3.24}
]
},
"vconcat":[
{"hconcat":[
{"data":{"name":"hm"},"width":403,"height":405,"title":"Mean ratings in homosexual males",
"mark":{"type":"point","filled":true,"opacity":1},
"encoding":{
"x":{"field":"v","type":"quantitative","scale":{"domain":[1,9],"nice":false,"zero":false},"axis":{"values":[1,2,3,4,5,6,7,8,9],"title":"valence (negative - positive)"}},
"y":{"field":"a","type":"quantitative","scale":{"domain":[1,9],"nice":false,"zero":false},"axis":{"values":[1,2,3,4,5,6,7,8,9],"title":"arousal"}},
"color":{"field":"c","type":"nominal","scale":{"domain":["N","O","MC","FC","M","F"],"range":["#a0a0a0","#ff0000","#00b0f0","#00b050","#7030a0","#ff8000"]},"legend":{"orient":"none","direction":"horizontal","columns":6,"legendX":48,"legendY":1049,"title":null,"symbolType":"square","labelExpr":"datum.value=='N'?'Non-erotic':datum.value=='O'?'Opposite-sex Couple':datum.value=='MC'?'Male Couple':datum.value=='FC'?'Female Couple':datum.value=='M'?'Male':'Female'"}},
"shape":{"field":"c","type":"nominal","scale":{"domain":["N","O","MC","FC","M","F","Z"],"range":["M-1,-0.75L-0.75,-1L0,-0.25L0.75,-1L1,-0.75L0.25,0L1,0.75L0.75,1L0,0.25L-0.75,1L-1,0.75L-0.25,0Z","square","circle","triangle-up","diamond","circle","circle"]},"legend":null},
"size":{"field":"c","type":"nominal","scale":{"type":"ordinal","domain":["N","O","MC","FC","M","F","Y"],"range":[30,14,24,26,30,24,20]},"legend":null}
}},
{"data":{"name":"hf"},"width":403,"height":405,"title":"Mean ratings in homosexual females",
"mark":{"type":"point","filled":true,"opacity":1},
"encoding":{
"x":{"field":"v","type":"quantitative","scale":{"domain":[1,9],"nice":false,"zero":false},"axis":{"values":[1,2,3,4,5,6,7,8,9],"title":"valence (negative - positive)"}},
"y":{"field":"a","type":"quantitative","scale":{"domain":[1,9],"nice":false,"zero":false},"axis":{"values":[1,2,3,4,5,6,7,8,9],"title":"arousal"}},
"color":{"field":"c","type":"nominal","scale":{"domain":["N","O","MC","FC","M","F"],"range":["#a0a0a0","#ff0000","#00b0f0","#00b050","#7030a0","#ff8000"]},"legend":{"orient":"none","direction":"horizontal","columns":6,"legendX":48,"legendY":1049,"title":null,"symbolType":"square","labelExpr":"datum.value=='N'?'Non-erotic':datum.value=='O'?'Opposite-sex Couple':datum.value=='MC'?'Male Couple':datum.value=='FC'?'Female Couple':datum.value=='M'?'Male':'Female'"}},
"shape":{"field":"c","type":"nominal","scale":{"domain":["N","O","MC","FC","M","F","Z"],"range":["M-1,-0.75L-0.75,-1L0,-0.25L0.75,-1L1,-0.75L0.25,0L1,0.75L0.75,1L0,0.25L-0.75,1L-1,0.75L-0.25,0Z","square","circle","triangle-up","diamond","circle","circle"]},"legend":null},
"size":{"field":"c","type":"nominal","scale":{"type":"ordinal","domain":["N","O","MC","FC","M","F","Y"],"range":[30,14,24,26,30,24,20]},"legend":null}
}}
],"spacing":46},
{"hconcat":[
{"data":{"name":"htm"},"width":403,"height":405,"title":"Mean ratings in heterosexual males",
"mark":{"type":"point","filled":true,"opacity":1},
"encoding":{
"x":{"field":"v","type":"quantitative","scale":{"domain":[1,9],"nice":false,"zero":false},"axis":{"values":[1,2,3,4,5,6,7,8,9],"title":"valence (negative - positive)"}},
"y":{"field":"a","type":"quantitative","scale":{"domain":[1,9],"nice":false,"zero":false},"axis":{"values":[1,2,3,4,5,6,7,8,9],"title":"arousal"}},
"color":{"field":"c","type":"nominal","scale":{"domain":["N","O","MC","FC","M","F"],"range":["#a0a0a0","#ff0000","#00b0f0","#00b050","#7030a0","#ff8000"]},"legend":{"orient":"none","direction":"horizontal","columns":6,"legendX":48,"legendY":1049,"title":null,"symbolType":"square","labelExpr":"datum.value=='N'?'Non-erotic':datum.value=='O'?'Opposite-sex Couple':datum.value=='MC'?'Male Couple':datum.value=='FC'?'Female Couple':datum.value=='M'?'Male':'Female'"}},
"shape":{"field":"c","type":"nominal","scale":{"domain":["N","O","MC","FC","M","F","Z"],"range":["M-1,-0.75L-0.75,-1L0,-0.25L0.75,-1L1,-0.75L0.25,0L1,0.75L0.75,1L0,0.25L-0.75,1L-1,0.75L-0.25,0Z","square","circle","triangle-up","diamond","circle","circle"]},"legend":null},
"size":{"field":"c","type":"nominal","scale":{"type":"ordinal","domain":["N","O","MC","FC","M","F","Y"],"range":[30,14,24,26,30,24,20]},"legend":null}
}},
{"data":{"name":"htf"},"width":403,"height":405,"title":"Mean ratings in heterosexual females",
"mark":{"type":"point","filled":true,"opacity":1},
"encoding":{
"x":{"field":"v","type":"quantitative","scale":{"domain":[1,9],"nice":false,"zero":false},"axis":{"values":[1,2,3,4,5,6,7,8,9],"title":"valence (negative - positive)"}},
"y":{"field":"a","type":"quantitative","scale":{"domain":[1,9],"nice":false,"zero":false},"axis":{"values":[1,2,3,4,5,6,7,8,9],"title":"arousal"}},
"color":{"field":"c","type":"nominal","scale":{"domain":["N","O","MC","FC","M","F"],"range":["#a0a0a0","#ff0000","#00b0f0","#00b050","#7030a0","#ff8000"]},"legend":{"orient":"none","direction":"horizontal","columns":6,"legendX":48,"legendY":1049,"title":null,"symbolType":"square","labelExpr":"datum.value=='N'?'Non-erotic':datum.value=='O'?'Opposite-sex Couple':datum.value=='MC'?'Male Couple':datum.value=='FC'?'Female Couple':datum.value=='M'?'Male':'Female'"}},
"shape":{"field":"c","type":"nominal","scale":{"domain":["N","O","MC","FC","M","F","Z"],"range":["M-1,-0.75L-0.75,-1L0,-0.25L0.75,-1L1,-0.75L0.25,0L1,0.75L0.75,1L0,0.25L-0.75,1L-1,0.75L-0.25,0Z","square","circle","triangle-up","diamond","circle","circle"]},"legend":null},
"size":{"field":"c","type":"nominal","scale":{"type":"ordinal","domain":["N","O","MC","FC","M","F","Y"],"range":[30,14,24,26,30,24,20]},"legend":null}
}}
],"spacing":46}
],
"spacing":74
}
